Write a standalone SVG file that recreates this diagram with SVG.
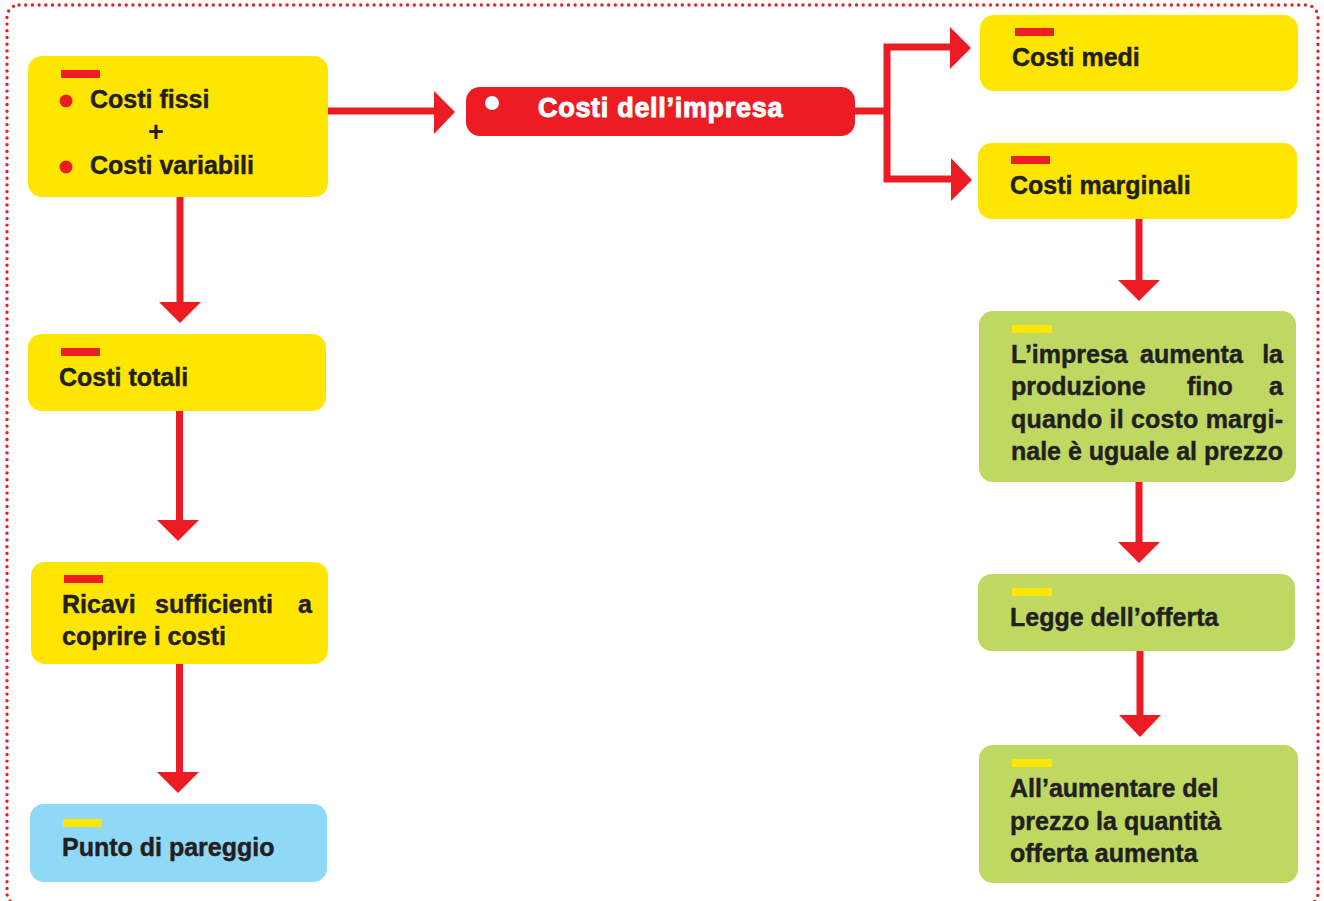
<svg xmlns="http://www.w3.org/2000/svg" width="1324" height="901" viewBox="0 0 1324 901">
  <style>
    .t { font-family: "Liberation Sans", Arial, sans-serif; font-weight: bold; font-size: 25px; fill: #231f20; stroke: #231f20; stroke-width: 0.45; }
    .yel { fill: #ffe600; }
    .grn { fill: #bed862; }
    .blu { fill: #8fd8f6; }
    .redbar { fill: #ed1c24; }
    .yelbar { fill: #ffe600; }
    .line { stroke: #ed1c24; stroke-width: 7; fill: none; }
    .head { fill: #ed1c24; }
  </style>

  <!-- dotted frame -->
  <rect x="7" y="5" width="1311" height="900" rx="12" fill="none" stroke="#ed1c24" stroke-width="3.4" stroke-linecap="round" stroke-dasharray="0 6.7"/>

  <!-- connectors -->
  <g id="connectors">
    <!-- costi fissi + variabili -> costi dell'impresa -->
    <line class="line" x1="328" y1="111" x2="436" y2="111"/>
    <polygon class="head" points="434,91 455,112 434,134"/>
    <!-- costi dell'impresa -> branches -->
    <polyline class="line" points="854,111 887,111"/>
    <polyline class="line" points="952,47 887,47 887,179 953,179"/>
    <polygon class="head" points="950,27 971,48 950,69"/>
    <polygon class="head" points="951,158 972,180 951,201"/>
    <!-- left column -->
    <line class="line" x1="180" y1="196" x2="180" y2="303"/>
    <polygon class="head" points="159,302 201,302 180,323"/>
    <line class="line" x1="179.5" y1="410" x2="179.5" y2="521"/>
    <polygon class="head" points="157,520 199,520 178,541"/>
    <line class="line" x1="179.5" y1="664" x2="179.5" y2="773"/>
    <polygon class="head" points="157,772 199,772 178,793"/>
    <!-- right column -->
    <line class="line" x1="1139" y1="218" x2="1139" y2="281"/>
    <polygon class="head" points="1118,280 1160,280 1139,301"/>
    <line class="line" x1="1139" y1="481" x2="1139" y2="543"/>
    <polygon class="head" points="1118,542 1160,542 1139,563"/>
    <line class="line" x1="1140" y1="651" x2="1140" y2="716"/>
    <polygon class="head" points="1119,715 1161,715 1140,737"/>
  </g>

  <!-- Costi fissi + Costi variabili -->
  <g id="node-fissi-variabili">
    <rect class="yel" x="28" y="56" width="300" height="141" rx="14"/>
    <rect class="redbar" x="61" y="70" width="39" height="8"/>
    <circle cx="66" cy="101" r="6.5" fill="#ed1c24"/>
    <circle cx="66" cy="167" r="6.5" fill="#ed1c24"/>
    <text class="t" x="90" y="108">Costi fissi</text>
    <text x="156" y="141" text-anchor="middle" font-family="Liberation Sans, Arial, sans-serif" font-weight="bold" font-size="27" fill="#231f20">+</text>
    <text class="t" x="90" y="174">Costi variabili</text>
  </g>

  <!-- Costi dell'impresa -->
  <g id="node-impresa">
    <rect x="466" y="87" width="389" height="49" rx="14" fill="#ed1c24"/>
    <circle cx="492" cy="103" r="7" fill="#ffffff"/>
    <text x="538" y="117" font-family="Liberation Sans, Arial, sans-serif" font-weight="bold" font-size="27" letter-spacing="0.7" fill="#ffffff" stroke="#ffffff" stroke-width="1">Costi dell’impresa</text>
  </g>

  <!-- Costi medi -->
  <g id="node-medi">
    <rect class="yel" x="980" y="15" width="318" height="76" rx="14"/>
    <rect class="redbar" x="1015" y="28" width="39" height="8"/>
    <text class="t" x="1012" y="66">Costi medi</text>
  </g>

  <!-- Costi marginali -->
  <g id="node-marginali">
    <rect class="yel" x="978" y="143" width="319" height="76" rx="14"/>
    <rect class="redbar" x="1011" y="156" width="39" height="8"/>
    <text class="t" x="1010" y="194">Costi marginali</text>
  </g>

  <!-- L'impresa aumenta la produzione -->
  <g id="node-produzione">
    <rect class="grn" x="979" y="311" width="317" height="171" rx="14"/>
    <rect class="yelbar" x="1012" y="325" width="40" height="8"/>
    <text class="t" x="1011" y="363">L’impresa</text>
    <text class="t" x="1140" y="363">aumenta</text>
    <text class="t" x="1283" y="363" text-anchor="end">la</text>
    <text class="t" x="1011" y="395">produzione</text>
    <text class="t" x="1187" y="395">fino</text>
    <text class="t" x="1283" y="395" text-anchor="end">a</text>
    <text class="t" x="1011" y="428" textLength="272" lengthAdjust="spacing">quando il costo margi-</text>
    <text class="t" x="1011" y="460" textLength="272" lengthAdjust="spacing">nale è uguale al prezzo</text>
  </g>

  <!-- Legge dell'offerta -->
  <g id="node-legge">
    <rect class="grn" x="978" y="574" width="317" height="77" rx="14"/>
    <rect class="yelbar" x="1012" y="588" width="40" height="8"/>
    <text class="t" x="1010" y="626">Legge dell’offerta</text>
  </g>

  <!-- All'aumentare del prezzo -->
  <g id="node-aumentare">
    <rect class="grn" x="979" y="745" width="319" height="138" rx="14"/>
    <rect class="yelbar" x="1012" y="759" width="40" height="8"/>
    <text class="t" x="1010" y="797">All’aumentare del</text>
    <text class="t" x="1010" y="830">prezzo la quantità</text>
    <text class="t" x="1010" y="862">offerta aumenta</text>
  </g>

  <!-- Costi totali -->
  <g id="node-totali">
    <rect class="yel" x="28" y="334" width="298" height="77" rx="14"/>
    <rect class="redbar" x="61" y="348" width="39" height="8"/>
    <text class="t" x="59" y="386">Costi totali</text>
  </g>

  <!-- Ricavi sufficienti -->
  <g id="node-ricavi">
    <rect class="yel" x="31" y="562" width="297" height="102" rx="14"/>
    <rect class="redbar" x="64" y="575" width="39" height="8"/>
    <text class="t" x="62" y="613">Ricavi</text>
    <text class="t" x="155" y="613">sufficienti</text>
    <text class="t" x="312" y="613" text-anchor="end">a</text>
    <text class="t" x="62" y="645">coprire i costi</text>
  </g>

  <!-- Punto di pareggio -->
  <g id="node-pareggio">
    <rect class="blu" x="30" y="804" width="297" height="78" rx="14"/>
    <rect class="yelbar" x="63" y="819" width="39" height="8"/>
    <text class="t" x="62" y="856">Punto di pareggio</text>
  </g>
</svg>
